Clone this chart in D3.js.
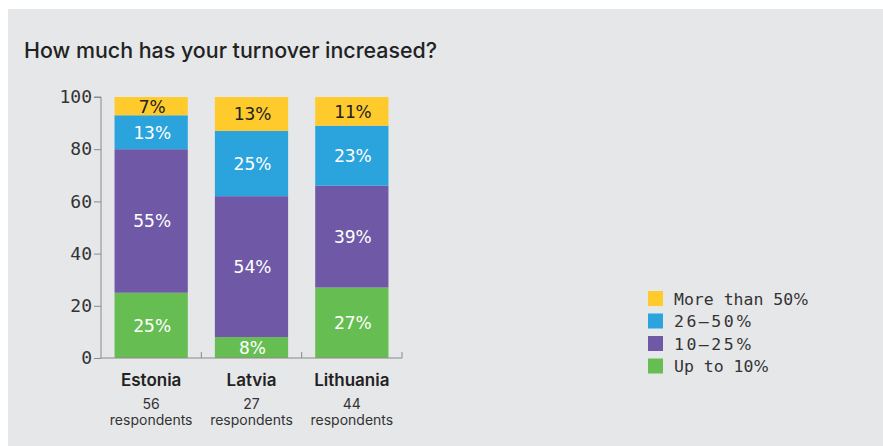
<!DOCTYPE html>
<html>
<head>
<meta charset="utf-8">
<script src="https://cdn.jsdelivr.net/npm/d3@7"></script>
<style>
  html, body { margin: 0; padding: 0; background: #fff; }
  svg { display: block; }
</style>
</head>
<body>
<svg id="chart" width="883" height="446"></svg>
<script>
// data
const countries = ['Estonia', 'Latvia', 'Lithuania']
const respondents = [56, 27, 44]
const seriesNames = ['Up to 10', '10–25', '26–50', 'More than 50']
const upTo10 = [25, 8, 27]
const from10to25 = [55, 54, 39]
const from26to50 = [13, 25, 23]
const moreThan50 = [7, 13, 11]
const yTicks = [0, 20, 40, 60, 80, 100]

const colors = ['#66be52', '#6f59a6', '#2ba3dd', '#ffca2c']
const labelColors = ['#fff', '#fff', '#fff', '#222']

const width = 883
const height = 446
const margin = { top: 97, right: 481, bottom: 88, left: 101 }
const mono = '"DejaVu Sans Mono", "Liberation Mono", monospace'
const sans = 'Inter, "Noto Sans", sans-serif'
const pctFont = '"DejaVu Sans", sans-serif'

const svg = d3.select('#chart')

/* panel */
svg.append('rect')
  .attr('x', 8).attr('y', 9)
  .attr('width', width - 8).attr('height', height - 9)
  .attr('fill', '#e6e7e9')

svg.append('text')
  .attr('x', 24).attr('y', 58)
  .attr('font-family', sans)
  .attr('font-weight', 500)
  .attr('font-size', 21.4)
  .attr('fill', '#222')
  .text('How much has your turnover increased?')

/* stack */
const rows = countries.map((c, i) => ({
  country: c,
  s0: upTo10[i], s1: from10to25[i], s2: from26to50[i], s3: moreThan50[i],
}))
const stack = d3.stack().keys(['s0', 's1', 's2', 's3'])(rows)

const xScale = d3.scaleBand()
  .domain(countries)
  .range([margin.left, width - margin.right])
  .paddingInner(0.27)
  .paddingOuter(0.135)

const yScale = d3.scaleLinear()
  .domain([0, 100])
  .range([height - margin.bottom, margin.top])

/* bars */
stack.forEach((layer, k) => {
  const g = svg.append('g')
  g.selectAll('rect')
    .data(layer)
    .join('rect')
    .attr('x', (d) => xScale(d.data.country))
    .attr('y', (d) => yScale(d[1]))
    .attr('width', xScale.bandwidth())
    .attr('height', (d) => yScale(d[0]) - yScale(d[1]))
    .attr('fill', colors[k])
  const t = g.selectAll('text')
    .data(layer)
    .join('text')
    .attr('x', (d) => xScale(d.data.country) + xScale.bandwidth() / 2 + 1)
    .attr('y', (d) => (yScale(d[0]) + yScale(d[1])) / 2)
    .attr('dy', '0.36em')
    .attr('text-anchor', 'middle')
    .attr('font-family', mono)
    .attr('font-size', 18)
    .attr('fill', labelColors[k])
  t.append('tspan').text((d) => d[1] - d[0])
  t.append('tspan').attr('font-family', pctFont).attr('font-size', 17).text('%')
})

/* axes */
const axisColor = '#8a8a8a'
const yAxis = svg.append('g')
  .attr('transform', `translate(${margin.left}, 0)`)
  .call(d3.axisLeft(yScale).tickValues(yTicks).tickSize(7).tickPadding(2))
yAxis.select('.domain').attr('stroke', axisColor).attr('d', `M-7,${yScale(100)}H0V${yScale(0)}`)
yAxis.selectAll('.tick line').attr('stroke', axisColor)
yAxis.selectAll('.tick text')
  .attr('font-family', mono)
  .attr('font-size', 18)
  .attr('fill', '#333')

const x0 = margin.left
const x1 = width - margin.right
const bounds = [x0 + xScale.step(), x0 + 2 * xScale.step(), x1]
const xAxis = svg.append('g')
xAxis.append('line')
  .attr('x1', x0).attr('x2', x1)
  .attr('y1', yScale(0)).attr('y2', yScale(0))
  .attr('stroke', axisColor)
xAxis.selectAll('.btick')
  .data(bounds)
  .join('line')
  .attr('x1', (d) => d).attr('x2', (d) => d)
  .attr('y1', yScale(0)).attr('y2', yScale(0) - 6)
  .attr('stroke', axisColor)

/* category labels */
const cat = svg.append('g')
countries.forEach((c, i) => {
  const cx = xScale(c) + xScale.bandwidth() / 2
  cat.append('text')
    .attr('x', cx).attr('y', 386)
    .attr('text-anchor', 'middle')
    .attr('font-family', sans)
    .attr('font-weight', 600)
    .attr('font-size', 17)
    .attr('fill', '#222')
    .text(c)
  cat.append('text')
    .attr('x', cx).attr('y', 409)
    .attr('text-anchor', 'middle')
    .attr('font-family', sans)
    .attr('font-size', 14)
    .attr('fill', '#333')
    .text(respondents[i])
  cat.append('text')
    .attr('x', cx).attr('y', 425)
    .attr('text-anchor', 'middle')
    .attr('font-family', sans)
    .attr('font-size', 14)
    .attr('fill', '#333')
    .text('respondents')
})

/* legend */
const legend = svg.append('g').attr('transform', 'translate(648, 291)')
const legendOrder = [3, 2, 1, 0]
legendOrder.forEach((k, i) => {
  legend.append('rect')
    .attr('x', 0).attr('y', i * 22.5)
    .attr('width', 15).attr('height', 15)
    .attr('fill', colors[k])
  const t = legend.append('text')
    .attr('x', 26).attr('y', i * 22.5 + 8)
    .attr('dy', '0.36em')
    .attr('font-family', mono)
    .attr('font-size', 16.5)
    .attr('fill', '#333')
  t.append('tspan')
    .attr('letter-spacing', /^\d/.test(seriesNames[k]) ? 2.5 : 0)
    .text(seriesNames[k])
  t.append('tspan').attr('font-family', pctFont).attr('font-size', 16).text('%')
})
</script>
</body>
</html>
